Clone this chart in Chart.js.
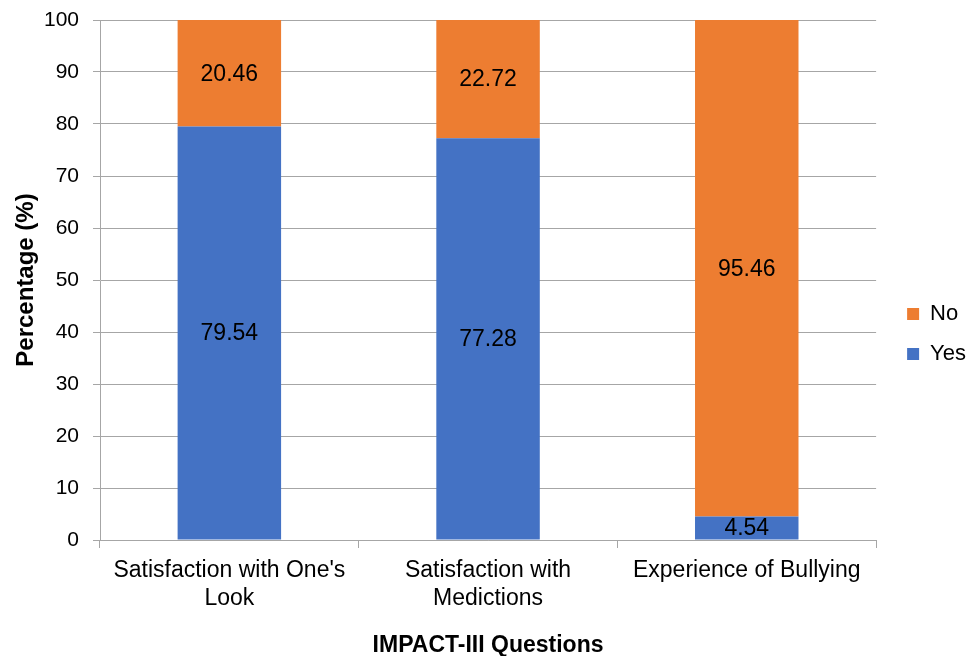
<!DOCTYPE html>
<html>
<head>
<meta charset="utf-8">
<script src="https://cdn.jsdelivr.net/npm/chart.js@4"></script>
<style>
  html, body { margin: 0; padding: 0; background: #fff; }
  #wrap { width: 970px; height: 656px; }
</style>
</head>
<body>
<div id="wrap"><canvas id="c" width="970" height="656"></canvas></div>
<script>
const categories = [["Satisfaction with One's", "Look"], ["Satisfaction with", "Medictions"], ["Experience of Bullying"]];
const yesValues = [79.54, 77.28, 4.54];
const noValues = [20.46, 22.72, 95.46];
const seriesNames = ["Yes", "No"];

const FONT = "'Liberation Sans', Arial, sans-serif";

// Writes each segment's value in the middle of its bar piece
const segmentLabels = {
  id: 'segmentLabels',
  afterDatasetsDraw(chart) {
    const ctx = chart.ctx;
    ctx.save();
    ctx.font = '23px ' + FONT;
    ctx.fillStyle = '#000';
    ctx.textAlign = 'center';
    ctx.textBaseline = 'middle';
    chart.data.datasets.forEach((ds, di) => {
      const meta = chart.getDatasetMeta(di);
      meta.data.forEach((bar, i) => {
        const v = ds.data[i];
        const mid = (bar.y + bar.base) / 2;
        ctx.fillText(v.toFixed(2), bar.x, mid + 1);
      });
    });
    ctx.restore();
  }
};

// Nudges the legend block toward the right edge after layout
const legendNudge = {
  id: 'legendNudge',
  afterLayout(chart) {
    const lg = chart.legend;
    if (!lg) return;
    lg.left += 13; lg.right += 13;
    lg.top -= 4; lg.bottom -= 4;
  }
};

new Chart(document.getElementById('c'), {
  type: 'bar',
  data: {
    labels: categories,
    datasets: [
      { label: seriesNames[0], data: yesValues, backgroundColor: '#4472C4', barPercentage: 0.4, categoryPercentage: 1.0 },
      { label: seriesNames[1], data: noValues, backgroundColor: '#ED7D31', barPercentage: 0.4, categoryPercentage: 1.0 }
    ]
  },
  options: {
    responsive: false,
    animation: false,
    layout: { padding: { top: 20, right: 7, bottom: 0, left: 0 } },
    plugins: {
      legend: {
        position: 'right',
        reverse: true,
        labels: {
          boxWidth: 12,
          boxHeight: 12,
          padding: 18,
          color: '#000',
          font: { family: FONT, size: 22 }
        }
      },
      tooltip: { enabled: false }
    },
    scales: {
      x: {
        stacked: true,
        afterFit(scale) {
          scale.height = 116;
          scale.paddingLeft = 0;
          scale.paddingRight = 0;
        },
        grid: { drawOnChartArea: false, drawTicks: true, tickLength: 8, color: '#A6A6A6', offset: true },
        border: { color: '#A6A6A6' },
        ticks: { color: '#000', font: { family: FONT, size: 23, lineHeight: 1.2 }, padding: 9, maxRotation: 0 },
        title: { display: true, text: 'IMPACT-III Questions', color: '#000', font: { family: FONT, size: 23, weight: 'bold' }, padding: { top: 12, bottom: -3 } }
      },
      y: {
        stacked: true,
        min: 0,
        max: 100,
        afterFit(scale) {
          scale.width = 100;
          scale.paddingTop = 0;
          scale.paddingBottom = 0;
        },
        ticks: { stepSize: 10, color: '#000', font: { family: FONT, size: 21 }, padding: 14 },
        grid: { color: '#A6A6A6', tickLength: 7 },
        border: { color: '#A6A6A6' },
        title: { display: true, text: 'Percentage (%)', color: '#000', font: { family: FONT, size: 24, weight: 'bold' }, padding: { top: 12, bottom: 4 } }
      }
    }
  },
  plugins: [segmentLabels, legendNudge]
});
</script>
</body>
</html>
